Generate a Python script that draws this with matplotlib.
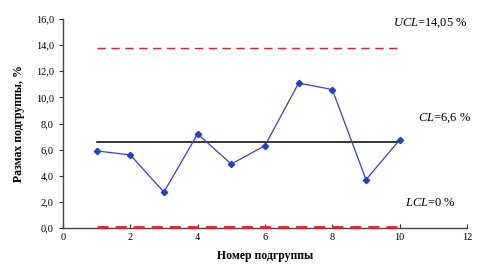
import matplotlib
matplotlib.use("Agg")
import matplotlib.pyplot as plt

subgroups = [1, 2, 3, 4, 5, 6, 7, 8, 9, 10]
ranges = [5.9, 5.6, 2.75, 7.2, 4.9, 6.3, 11.1, 10.6, 3.7, 6.75]
ucl_line = 13.8
cl_line = 6.55
lcl_line = 0.0
xticks = [0, 2, 4, 6, 8, 10, 12]
yticks = [0, 2, 4, 6, 8, 10, 12, 14, 16]
ytick_labels = ["0,0", "2,0", "4,0", "6,0", "8,0", "10,0", "12,0", "14,0", "16,0"]

plt.rcParams['font.family'] = ['Liberation Serif', 'DejaVu Serif']
plt.rcParams['mathtext.fontset'] = 'custom'
plt.rcParams['mathtext.rm'] = 'Liberation Serif'
plt.rcParams['mathtext.it'] = 'Liberation Serif:italic'

fig = plt.figure(figsize=(4.8, 2.76), dpi=100)
ax = fig.add_axes([0.131, 0.174, 0.842, 0.757])

x0, x1 = subgroups[0], subgroups[-1]
ax.plot([x0, x1], [ucl_line, ucl_line], color='#e8202a', lw=1.0, dashes=(6, 4))
ax.plot([x0, x1], [cl_line, cl_line], color='black', lw=1.1)
ax.plot(subgroups, ranges, color='#3344cc', lw=0.9, marker='D', ms=3.2,
        markerfacecolor='#2244bb', markeredgecolor='#2244bb')
ax.plot([x0, x1], [lcl_line + 0.08, lcl_line + 0.08], color='#e8202a', lw=2.0,
        dashes=(4, 2.5), zorder=5, clip_on=False)

ax.set_xlim(0, 12)
ax.set_ylim(0, 16)
ax.set_xticks(xticks)
ax.set_yticks(yticks)
ax.set_yticklabels(ytick_labels)
ax.tick_params(axis='both', labelsize=7.5, length=3, width=0.8, colors='#333333')
ax.tick_params(axis='x', direction='in')
for lab in ax.get_xticklabels() + ax.get_yticklabels():
    lab.set_color('black')
for s in ['top', 'right']:
    ax.spines[s].set_visible(False)
for s in ['left', 'bottom']:
    ax.spines[s].set_color('#444444')
    ax.spines[s].set_linewidth(1.0)

ax.set_xlabel("Номер подгруппы", fontsize=8.5, fontweight='bold', labelpad=6)
ax.set_ylabel("Размах подгруппы, %", fontsize=8.5, fontweight='bold', labelpad=8)

ax.text(9.8, 15.7, r"$\mathit{UCL}$=14,05 %", fontsize=9, ha='left', va='center', clip_on=False)
ax.text(10.55, 8.4, r"$\mathit{CL}$=6,6 %", fontsize=9, ha='left', va='center', clip_on=False)
ax.text(10.15, 1.95, r"$\mathit{LCL}$=0 %", fontsize=9, ha='left', va='center', clip_on=False)

fig.savefig("out.png", dpi=100)
